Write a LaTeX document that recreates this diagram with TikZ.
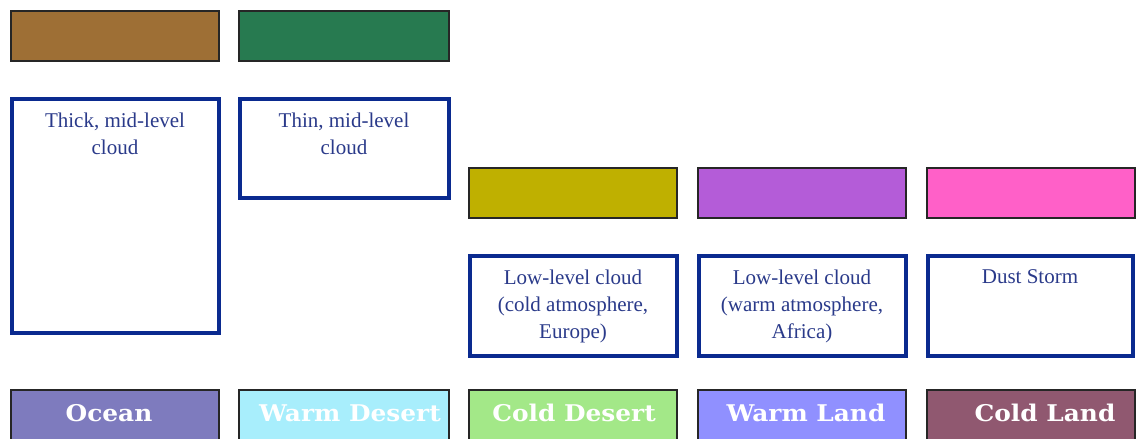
\documentclass[tikz,border=0pt]{standalone}
\usepackage{fontspec}
\setmainfont{Liberation Serif}
\newfontfamily\labfont{DejaVu Serif}
\definecolor{cbrown}{HTML}{9E6F35}
\definecolor{cgreen}{HTML}{277A50}
\definecolor{colive}{HTML}{BFB000}
\definecolor{cpurple}{HTML}{B45CD8}
\definecolor{cpink}{HTML}{FF60C8}
\definecolor{cocean}{HTML}{7E7BBE}
\definecolor{cwdesert}{HTML}{A8EEFC}
\definecolor{ccdesert}{HTML}{A3E888}
\definecolor{cwland}{HTML}{9090FF}
\definecolor{ccland}{HTML}{905870}
\definecolor{bord}{HTML}{0A2A8F}
\definecolor{txtblue}{HTML}{2A3A8A}
\tikzset{
  swatch/.style={draw=black!85, line width=1.8pt, fill=#1, minimum width=208pt, minimum height=50pt, inner sep=0pt},
  descbox/.style={draw=bord, line width=4pt, fill=white, inner sep=0pt},
  desctext/.style={anchor=north, align=center, text=txtblue, font=\fontsize{21}{27}\selectfont, inner sep=0pt},
  sfcbox/.style={draw=black!85, line width=1.8pt, fill=#1, minimum width=208pt, minimum height=55pt, inner sep=0pt},
  sfctext/.style={text=white, inner sep=0pt, font=\labfont\bfseries\fontsize{23}{25}\selectfont}
}
\newcommand{\wlab}[1]{\scalebox{1.08}[1]{#1}}
\begin{document}
\begin{tikzpicture}[x=1pt,y=-1pt]
\useasboundingbox (0,0) rectangle (1136,439);
\clip (0,0) rectangle (1136,439);
\fill[white] (0,0) rectangle (1136,439);
% top swatches
\node[swatch=cbrown] (sw1) at (115,36) {};
\node[swatch=cgreen, minimum width=210pt] (sw2) at (344,36) {};
\node[swatch=colive] (sw3) at (573,193) {};
\node[swatch=cpurple] (sw4) at (802,193) {};
\node[swatch=cpink] (sw5) at (1031,193) {};
% description boxes
\node[descbox, minimum width=207pt, minimum height=234pt] (d1) at (115,215.5) {};
\node[descbox, minimum width=209pt, minimum height=99pt] (d2) at (344,148) {};
\node[descbox, minimum width=207pt, minimum height=100pt] (d3) at (573,305.5) {};
\node[descbox, minimum width=207pt, minimum height=100pt] (d4) at (802,305.5) {};
\node[descbox, minimum width=205pt, minimum height=100pt] (d5) at (1030,305.5) {};
\node[desctext] (t1) at ([yshift=-16pt]d1.north) {Thick, mid-level\\cloud};
\node[desctext] (t2) at ([yshift=-16pt]d2.north) {Thin, mid-level\\cloud};
\node[desctext] (t3) at ([yshift=-16pt]d3.north) {Low-level cloud\\(cold atmosphere,\\Europe)};
\node[desctext] (t4) at ([yshift=-16pt]d4.north) {Low-level cloud\\(warm atmosphere,\\Africa)};
\node[desctext] (t5) at ([yshift=-16pt]d5.north) {Dust Storm};
% surface boxes
\node[sfcbox=cocean] (s1) at (115,417.5) {};
\node[sfcbox=cwdesert, minimum width=210pt] (s2) at (344,417.5) {};
\node[sfcbox=ccdesert] (s3) at (573,417.5) {};
\node[sfcbox=cwland] (s4) at (802,417.5) {};
\node[sfcbox=ccland] (s5) at (1031,417.5) {};
\node[sfctext] (l1) at (109,413) {\wlab{Ocean}};
\node[sfctext] (l2) at (350,413) {\wlab{Warm Desert}};
\node[sfctext] (l3) at (574,413) {\wlab{Cold Desert}};
\node[sfctext] (l4) at (806,413) {\wlab{Warm Land}};
\node[sfctext] (l5) at (1045,413) {\wlab{Cold Land}};
\end{tikzpicture}
\end{document}
